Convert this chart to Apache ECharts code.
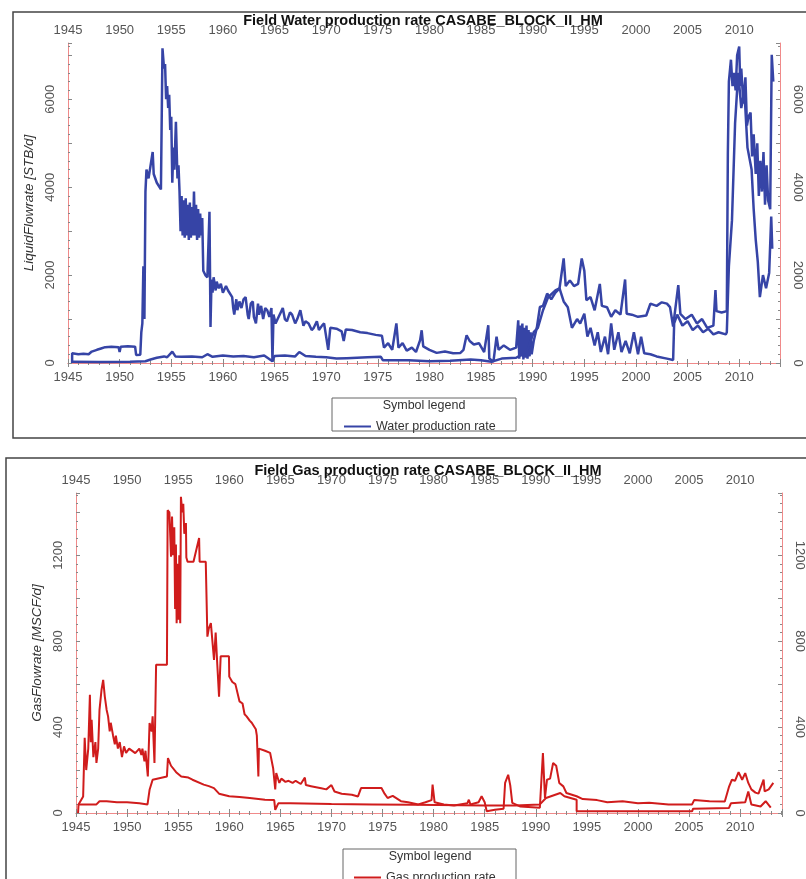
<!DOCTYPE html>
<html>
<head>
<meta charset="UTF-8">
<title>CASABE_BLOCK_II_HM</title>
<script src="https://cdn.jsdelivr.net/npm/echarts@6/dist/echarts.min.js"></script>
</head>
<body style="margin:0;background:#fff">
<div id="main" style="width:806px;height:879px"></div>
<script>
// year / rate pairs
var waterHist = [
  [1945.4, 0], [1945.4, 220], [1946.0, 200], [1946.5, 210], [1947.0, 200], [1947.3, 260], [1947.8, 300],
  [1948.2, 330], [1948.6, 360], [1949.2, 370], [1949.9, 360], [1950.0, 250], [1950.1, 370], [1950.8, 380],
  [1951.5, 370], [1951.6, 180], [1952.0, 190], [1952.1, 700], [1952.2, 900], [1952.3, 2200], [1952.4, 1000],
  [1952.5, 3900], [1952.6, 4400], [1952.8, 4200], [1953.0, 4500], [1953.2, 4800], [1953.3, 4300], [1953.6, 4100],
  [1954.0, 3950], [1954.15, 7160], [1954.3, 6700], [1954.4, 6800], [1954.5, 6000], [1954.6, 6300], [1954.7, 5800],
  [1954.8, 6100], [1954.9, 5300], [1955.0, 5600], [1955.1, 4100], [1955.2, 4900], [1955.3, 4400], [1955.45, 5490],
  [1955.6, 4200], [1955.7, 4500], [1955.8, 3900], [1955.9, 3000], [1956.0, 3800], [1956.1, 2900], [1956.2, 3700],
  [1956.3, 2850], [1956.4, 3750], [1956.5, 2900], [1956.6, 3600], [1956.7, 2800], [1956.8, 3650], [1956.9, 2850],
  [1957.0, 3550], [1957.1, 2900], [1957.2, 3900], [1957.3, 2900], [1957.4, 3600], [1957.5, 2800], [1957.6, 3500],
  [1957.7, 2850], [1957.8, 3400], [1957.9, 2900], [1958.0, 3300], [1958.1, 2100], [1958.3, 2000], [1958.5, 1950],
  [1958.7, 3440], [1958.8, 820], [1958.9, 1900], [1959.0, 1600], [1959.1, 1950], [1959.3, 1650], [1959.4, 1850],
  [1959.6, 1700], [1959.8, 1800], [1960.0, 1600], [1960.3, 1750], [1960.5, 1650], [1960.9, 1500], [1961.0, 1250],
  [1961.1, 1100], [1961.3, 1450], [1961.4, 1200], [1961.6, 1400], [1961.8, 1250], [1962.0, 1450], [1962.2, 1500],
  [1962.4, 1100], [1962.5, 1000], [1962.7, 1350], [1962.9, 1400], [1963.0, 1050], [1963.2, 900], [1963.4, 1350],
  [1963.5, 1100], [1963.7, 1300], [1963.9, 1000], [1964.1, 1250], [1964.3, 1200], [1964.5, 1050], [1964.7, 1250],
  [1964.8, 30], [1964.9, 1100], [1965.1, 900], [1965.3, 1000], [1965.6, 1150], [1965.8, 1250], [1966.0, 1000],
  [1966.2, 950], [1966.5, 1150], [1966.7, 1100], [1967.0, 900], [1967.2, 1000], [1967.5, 1200], [1967.8, 850],
  [1968.0, 950], [1968.3, 900], [1968.6, 750], [1968.8, 800], [1969.1, 950], [1969.3, 750], [1969.6, 850],
  [1969.8, 900], [1970.0, 600], [1970.2, 300], [1970.4, 800], [1971.0, 780], [1971.5, 720], [1971.7, 500],
  [1971.9, 760], [1972.5, 750], [1973.3, 700], [1974.0, 680], [1974.8, 640], [1975.4, 620], [1975.6, 350],
  [1976.0, 450], [1976.4, 300], [1976.8, 900], [1977.0, 350], [1977.4, 450], [1977.8, 280], [1978.3, 350],
  [1978.7, 250], [1979.1, 520], [1979.25, 745], [1979.4, 380], [1980.0, 300], [1980.7, 230], [1981.5, 260],
  [1982.3, 220], [1983.0, 230], [1983.3, 300], [1983.6, 630], [1983.9, 500], [1984.3, 420], [1984.8, 450],
  [1985.3, 250], [1985.7, 860], [1985.8, 100], [1986.2, 30], [1986.5, 600], [1986.7, 300], [1987.2, 400],
  [1987.8, 300], [1988.4, 350], [1988.6, 970], [1988.7, 100], [1988.8, 850], [1988.9, 150], [1989.0, 900],
  [1989.1, 80], [1989.2, 800], [1989.3, 120], [1989.4, 850], [1989.5, 100], [1989.6, 750], [1989.7, 150],
  [1989.8, 700], [1989.9, 200], [1990.1, 500], [1990.4, 800], [1990.7, 1275], [1991.0, 1300], [1991.4, 1580],
  [1991.8, 1450], [1992.2, 1600], [1992.6, 1700], [1993.0, 2380], [1993.2, 1750], [1993.6, 1880], [1994.0, 1750],
  [1994.4, 1800], [1994.75, 2380], [1995.0, 2100], [1995.2, 1430], [1995.6, 1500], [1996.0, 1200], [1996.5, 1800],
  [1996.7, 1300], [1997.2, 1270], [1997.6, 1050], [1998.0, 1200], [1998.5, 1100], [1998.95, 1900], [1999.1, 1120],
  [1999.6, 1100], [2000.2, 1050], [2001.0, 1080], [2001.4, 1350], [2002.0, 1300], [2002.5, 1380], [2003.0, 1350],
  [2003.3, 1270], [2003.6, 830], [2004.1, 1770], [2004.3, 1120], [2004.8, 1000], [2005.4, 1100], [2005.9, 900],
  [2006.4, 1000], [2006.9, 800], [2007.5, 850], [2007.7, 1660], [2007.8, 1180], [2008.3, 1150], [2008.8, 1180],
  [2008.9, 4770], [2009.0, 6400], [2009.2, 6900], [2009.35, 6300], [2009.5, 6600], [2009.65, 6200], [2009.8, 7000],
  [2010.0, 7200], [2010.1, 6300], [2010.2, 6700], [2010.4, 5900], [2010.6, 6500], [2010.75, 5400], [2010.9, 5600],
  [2011.1, 5700], [2011.25, 4700], [2011.4, 5200], [2011.6, 4300], [2011.75, 5000], [2011.9, 3800], [2012.05, 4600],
  [2012.2, 3900], [2012.35, 4800], [2012.5, 3600], [2012.65, 4500], [2012.8, 3700], [2013.0, 3500], [2013.15, 7010],
  [2013.3, 6400]
];
var waterSim = [
  [1945.4, 30], [1948.0, 25], [1951.0, 30], [1952.5, 40], [1953.0, 80], [1953.6, 120], [1954.3, 150], [1954.6, 130],
  [1955.1, 260], [1955.4, 150], [1956.0, 140], [1957.0, 150], [1958.0, 130], [1958.5, 200], [1959.0, 140],
  [1960.0, 170], [1961.0, 150], [1962.0, 160], [1963.0, 130], [1964.0, 170], [1964.8, 40], [1965.0, 160],
  [1966.0, 170], [1967.0, 150], [1967.4, 250], [1968.0, 160], [1969.0, 140], [1970.0, 130], [1971.0, 100],
  [1972.0, 110], [1973.0, 120], [1974.0, 130], [1975.3, 140], [1975.5, 60], [1976.0, 60], [1978.0, 60],
  [1979.0, 50], [1980.0, 40], [1982.0, 50], [1984.0, 80], [1985.0, 60], [1986.0, 30], [1987.0, 100], [1988.4, 120],
  [1989.0, 200], [1989.5, 300], [1990.1, 700], [1990.5, 800], [1991.0, 1200], [1991.5, 1500], [1992.2, 1650],
  [1992.6, 1700], [1993.0, 1400], [1993.4, 1270], [1993.8, 800], [1994.3, 1000], [1994.6, 900], [1995.0, 1120],
  [1995.3, 600], [1995.6, 800], [1996.0, 400], [1996.3, 700], [1996.6, 250], [1997.0, 600], [1997.3, 200],
  [1997.6, 900], [1997.9, 300], [1998.3, 700], [1998.6, 250], [1999.0, 500], [1999.4, 220], [1999.8, 700],
  [2000.2, 200], [2000.5, 600], [2000.8, 220], [2001.4, 200], [2002.0, 150], [2003.0, 100], [2003.6, 70],
  [2003.7, 900], [2004.0, 1100], [2004.5, 850], [2005.0, 950], [2005.5, 750], [2006.0, 850], [2006.5, 700],
  [2007.0, 780], [2007.5, 650], [2008.0, 700], [2008.7, 650], [2008.8, 700], [2009.0, 2200], [2009.3, 3250],
  [2009.6, 5450], [2009.9, 6600], [2010.2, 5800], [2010.5, 6200], [2010.8, 4900], [2011.2, 4400], [2011.4, 3500],
  [2011.6, 2800], [2011.8, 2300], [2012.0, 1500], [2012.3, 2000], [2012.6, 1700], [2012.9, 2050], [2013.1, 3330],
  [2013.2, 2600]
];
var gasHist = [
  [1945.2, 0], [1945.25, 40], [1945.7, 77], [1945.85, 350], [1946.0, 200], [1946.2, 300], [1946.36, 550],
  [1946.45, 330], [1946.53, 434], [1946.7, 260], [1946.9, 330], [1947.0, 233], [1947.17, 300], [1947.3, 480],
  [1947.5, 574], [1947.66, 620], [1947.82, 542], [1948.0, 480], [1948.14, 450], [1948.3, 380], [1948.4, 420],
  [1948.63, 360], [1948.8, 320], [1948.9, 360], [1949.1, 300], [1949.28, 330], [1949.5, 260], [1949.7, 310],
  [1949.9, 280], [1950.2, 300], [1950.8, 279], [1951.2, 300], [1951.4, 270], [1951.5, 300], [1951.7, 240],
  [1951.8, 290], [1952.03, 170], [1952.2, 419], [1952.4, 380], [1952.5, 450], [1952.68, 233], [1952.84, 690],
  [1953.9, 690], [1953.97, 1410], [1954.14, 1400], [1954.3, 1193], [1954.4, 1380], [1954.5, 1200], [1954.62, 1330],
  [1954.7, 950], [1954.78, 1250], [1954.85, 884], [1954.95, 1160], [1955.05, 900], [1955.11, 1200], [1955.2, 884],
  [1955.27, 1472], [1955.4, 1400], [1955.5, 1440], [1955.6, 1300], [1955.76, 1350], [1955.8, 1190], [1955.92, 1170],
  [1956.5, 1170], [1957.05, 1280], [1957.1, 1170], [1957.7, 1170], [1957.86, 821], [1958.0, 860], [1958.2, 884],
  [1958.35, 800], [1958.51, 713], [1958.67, 840], [1958.83, 690], [1959.0, 542], [1959.16, 730], [1959.97, 730],
  [1960.0, 635], [1960.3, 610], [1960.6, 600], [1961.0, 520], [1961.3, 510], [1961.5, 460], [1961.7, 450],
  [1962.0, 430], [1962.2, 420], [1962.6, 390], [1962.7, 360], [1962.85, 170], [1962.9, 300], [1963.5, 290],
  [1964.0, 280], [1964.3, 207], [1964.5, 110], [1964.6, 186], [1964.9, 140], [1965.1, 160], [1965.5, 145],
  [1965.8, 150], [1966.2, 140], [1966.5, 150], [1967.0, 135], [1967.4, 165], [1967.5, 130], [1968.0, 125],
  [1968.5, 120], [1969.0, 115], [1969.5, 110], [1970.0, 130], [1970.3, 100], [1971.0, 90], [1972.0, 85],
  [1972.6, 77], [1972.9, 116], [1974.9, 116], [1975.2, 90], [1975.5, 70], [1976.0, 80], [1976.8, 55], [1977.5, 50],
  [1978.5, 40], [1979.2, 50], [1979.8, 60], [1979.9, 132], [1980.1, 50], [1981.0, 40], [1982.0, 35], [1983.3, 45],
  [1983.45, 62], [1983.6, 40], [1984.4, 50], [1984.7, 78], [1985.0, 50], [1985.2, 8], [1986.0, 15], [1986.85, 20],
  [1987.0, 140], [1987.3, 178], [1987.5, 130], [1987.7, 47], [1988.5, 30], [1990.4, 25], [1990.7, 279], [1990.9, 70],
  [1991.1, 155], [1991.4, 160], [1991.7, 233], [1992.0, 220], [1992.3, 140], [1992.7, 124], [1993.0, 93],
  [1994.0, 78], [1994.6, 65], [1996.0, 60], [1997.0, 50], [1998.5, 55], [2000.0, 45], [2001.1, 48], [2003.0, 40],
  [2005.3, 40], [2005.5, 60], [2007.0, 55], [2008.5, 54], [2008.9, 120], [2009.2, 155], [2009.5, 150],
  [2009.85, 190], [2010.2, 155], [2010.5, 186], [2010.8, 140], [2011.1, 110], [2011.5, 95], [2011.8, 90],
  [2012.3, 155], [2012.4, 101], [2012.8, 110], [2013.25, 140]
];
var gasSim = [
  [1945.2, 39], [1947.0, 40], [1947.3, 55], [1948.0, 55], [1949.0, 50], [1950.0, 50], [1951.2, 45], [1952.0, 40],
  [1952.2, 108], [1952.5, 155], [1953.9, 170], [1954.0, 256], [1954.3, 220], [1954.8, 190], [1955.3, 170],
  [1956.0, 165], [1956.4, 155], [1957.5, 132], [1958.0, 125], [1958.5, 116], [1959.0, 90], [1960.0, 78],
  [1961.0, 75], [1962.0, 70], [1963.5, 62], [1964.4, 60], [1964.5, 15], [1964.8, 45], [1966.0, 45], [1970.0, 42],
  [1974.0, 40], [1978.0, 38], [1985.0, 35], [1988.0, 35], [1990.4, 40], [1991.0, 70], [1992.4, 93], [1992.8, 78],
  [1994.0, 62], [1994.0, 8], [2005.3, 8], [2005.4, 20], [2008.9, 23], [2009.1, 45], [2010.5, 50], [2010.8, 100],
  [2011.1, 40], [2012.0, 30], [2012.5, 55], [2013.0, 25]
];
var waterTitle = 'Field Water production rate CASABE_BLOCK_II_HM';
var gasTitle = 'Field Gas production rate CASABE_BLOCK_II_HM';

var frameColor = '#f08a8a';
var labelFont = { color: '#555', fontSize: 13, fontFamily: 'Liberation Sans' };

function xAxisOf(grid, pos, max) {
  return {
    type: 'value', gridIndex: grid, position: pos, min: 1945, max: max, interval: 5,
    axisLine: { lineStyle: { color: frameColor, width: 1 } },
    axisTick: { inside: true, length: 4, lineStyle: { color: '#888' } },
    minorTick: { show: true, splitNumber: 5, length: 2, lineStyle: { color: '#888' } },
    splitLine: { show: false },
    axisLabel: Object.assign({ margin: pos === 'top' ? 6 : 8, showMaxLabel: false,
      formatter: function (v) { return v % 5 === 0 ? v : ''; } }, labelFont)
  };
}
function yAxisOf(grid, pos, max, step, labelStep, name) {
  return {
    type: 'value', gridIndex: grid, position: pos, min: 0, max: max, interval: step,
    name: name, nameLocation: 'middle', nameGap: 32,
    nameTextStyle: { color: '#333', fontSize: 13.5, fontStyle: 'italic', fontFamily: 'Liberation Sans' },
    axisLine: { show: true, lineStyle: { color: frameColor, width: 1 } },
    axisTick: { show: true, inside: true, length: 4, lineStyle: { color: '#888' } },
    minorTick: { show: true, splitNumber: 5, length: 2, lineStyle: { color: '#888' } },
    splitLine: { show: false },
    axisLabel: Object.assign({ margin: 11, rotate: pos === 'left' ? 90 : -90, showMaxLabel: false,
      formatter: function (v) { return v % labelStep === 0 ? v : ''; } }, labelFont)
  };
}

var myChart = echarts.init(document.getElementById('main'));
var legendText = { color: '#333', fontSize: 12.5, fontFamily: 'Liberation Sans' };
var option = {
  animation: false,
  backgroundColor: '#fff',
  grid: [
    { left: 68, top: 43, width: 712, height: 320 },
    { left: 76, top: 493, width: 711, height: 320 }
  ],
  xAxis: [
    xAxisOf(0, 'bottom', 2013.95), xAxisOf(0, 'top', 2013.95),
    xAxisOf(1, 'bottom', 2014.1), xAxisOf(1, 'top', 2014.1)
  ],
  yAxis: [
    yAxisOf(0, 'left', 7280, 1000, 2000, 'LiquidFlowrate [STB/d]'),
    yAxisOf(0, 'right', 7280, 1000, 2000, ''),
    yAxisOf(1, 'left', 1490, 200, 400, 'GasFlowrate [MSCF/d]'),
    yAxisOf(1, 'right', 1490, 200, 400, '')
  ],
  legend: [
    { data: ['Water production rate'], left: 339, top: 415, icon: 'rect', itemWidth: 27, itemHeight: 2, itemGap: 4,
      textStyle: legendText },
    { data: ['Gas production rate'], left: 349, top: 866, icon: 'rect', itemWidth: 27, itemHeight: 2, itemGap: 4,
      textStyle: legendText }
  ],
  graphic: [
    { type: 'rect', shape: { x: 13, y: 12, width: 800, height: 426 }, style: { fill: 'none', stroke: '#444', lineWidth: 1.5 }, z: -1 },
    { type: 'rect', shape: { x: 6, y: 458, width: 810, height: 430 }, style: { fill: 'none', stroke: '#444', lineWidth: 1.5 }, z: -1 },
    { type: 'text', x: 423, y: 21, style: { text: waterTitle, fill: '#111', font: 'bold 14.5px "Liberation Sans"', textAlign: 'center', textVerticalAlign: 'middle' }, z: 10 },
    { type: 'text', x: 428, y: 471, style: { text: gasTitle, fill: '#111', font: 'bold 14.5px "Liberation Sans"', textAlign: 'center', textVerticalAlign: 'middle' }, z: 10 },
    { type: 'rect', shape: { x: 332, y: 398, width: 184, height: 33 }, style: { fill: 'none', stroke: '#666', lineWidth: 1 } },
    { type: 'text', x: 424, y: 406, style: { text: 'Symbol legend', fill: '#333', font: '12.5px "Liberation Sans"', textAlign: 'center', textVerticalAlign: 'middle' } },
    { type: 'rect', shape: { x: 343, y: 849, width: 173, height: 40 }, style: { fill: 'none', stroke: '#666', lineWidth: 1 } },
    { type: 'text', x: 430, y: 857, style: { text: 'Symbol legend', fill: '#333', font: '12.5px "Liberation Sans"', textAlign: 'center', textVerticalAlign: 'middle' } }
  ],
  series: [
    { name: 'Water production rate', type: 'line', xAxisIndex: 0, yAxisIndex: 0, data: waterHist,
      symbol: 'none', lineStyle: { color: '#3644a6', width: 2.5 }, itemStyle: { color: '#3644a6' } },
    { name: 'Water production rate', type: 'line', xAxisIndex: 0, yAxisIndex: 0, data: waterSim,
      symbol: 'none', lineStyle: { color: '#3644a6', width: 2.5 }, itemStyle: { color: '#3644a6' } },
    { name: 'Gas production rate', type: 'line', xAxisIndex: 2, yAxisIndex: 2, data: gasHist,
      symbol: 'none', lineStyle: { color: '#d01c1c', width: 2 }, itemStyle: { color: '#d01c1c' } },
    { name: 'Gas production rate', type: 'line', xAxisIndex: 2, yAxisIndex: 2, data: gasSim,
      symbol: 'none', lineStyle: { color: '#d01c1c', width: 2 }, itemStyle: { color: '#d01c1c' } }
  ]
};
myChart.setOption(option);
</script>
</body>
</html>
